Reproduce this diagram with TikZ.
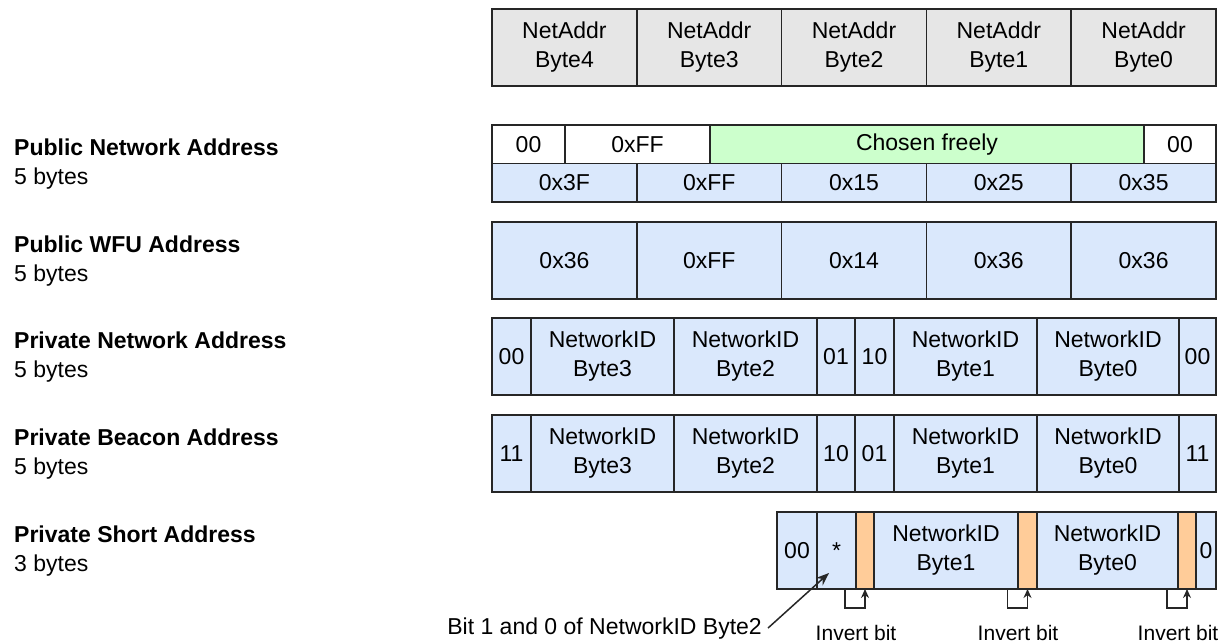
\documentclass[tikz,border=0pt]{standalone}
\usepackage{fontspec}
\setmainfont{Liberation Sans}
\usetikzlibrary{arrows.meta}
\definecolor{grayfill}{HTML}{E6E6E6}
\definecolor{bluefill}{HTML}{DAE8FC}
\definecolor{greenfill}{HTML}{CCFFCC}
\definecolor{orangefill}{HTML}{FFCC99}

\begin{document}
\begin{tikzpicture}[x=1pt,y=-1pt,
    every node/.style={font=\fontsize{23}{29}\selectfont},
    cell/.style={draw=black!85,line width=1.5pt,anchor=north west,inner sep=0pt,
        outer sep=0pt,align=center,minimum height=77pt},
    halfcell/.style={cell,minimum height=38.5pt},
    addrlabel/.style={anchor=west,align=left,inner sep=0pt},
    note/.style={inner sep=0pt},
    invnote/.style={note,anchor=base,font=\fontsize{21}{26}\selectfont},
    bracket/.style={draw=black!85,line width=1.5pt,-{Stealth[length=9pt,width=8pt]}},
    pointer/.style={draw=black!85,line width=1.5pt,-{Stealth[length=13pt,width=10pt]}}]
    \useasboundingbox (0,0) rectangle (1228,644);
    % address names
    \node[addrlabel] (lpn) at (14,164.5) {\textbf{Public Network Address}\\5 bytes};
    \node[addrlabel] (lpw) at (14,261.5) {\textbf{Public WFU Address}\\5 bytes};
    \node[addrlabel] (lrn) at (14,357.5) {\textbf{Private Network Address}\\5 bytes};
    \node[addrlabel] (lrb) at (14,454.5) {\textbf{Private Beacon Address}\\5 bytes};
    \node[addrlabel] (lrs) at (14,551.5) {\textbf{Private Short Address}\\3 bytes};
    % NetAddr header
    \node[cell,fill=grayfill,minimum width=144.8pt] (na4) at (492,9) {NetAddr\\Byte4};
    \node[cell,fill=grayfill,minimum width=144.8pt] (na3) at (636.8,9) {NetAddr\\Byte3};
    \node[cell,fill=grayfill,minimum width=144.8pt] (na2) at (781.6,9) {NetAddr\\Byte2};
    \node[cell,fill=grayfill,minimum width=144.8pt] (na1) at (926.4,9) {NetAddr\\Byte1};
    \node[cell,fill=grayfill,minimum width=144.8pt] (na0) at (1071.2,9) {NetAddr\\Byte0};
    % public network
    \node[halfcell,fill=white,minimum width=73pt] (pnA) at (492,125) {00};
    \node[halfcell,fill=white,minimum width=145pt] (pnB) at (565,125) {0xFF};
    \node[halfcell,fill=greenfill,minimum width=434pt] (pnC) at (710,125) {Chosen freely};
    \node[halfcell,fill=white,minimum width=72pt] (pnD) at (1144,125) {00};
    \node[halfcell,fill=bluefill,minimum width=144.8pt] (pn4) at (492,163.5) {0x3F};
    \node[halfcell,fill=bluefill,minimum width=144.8pt] (pn3) at (636.8,163.5) {0xFF};
    \node[halfcell,fill=bluefill,minimum width=144.8pt] (pn2) at (781.6,163.5) {0x15};
    \node[halfcell,fill=bluefill,minimum width=144.8pt] (pn1) at (926.4,163.5) {0x25};
    \node[halfcell,fill=bluefill,minimum width=144.8pt] (pn0) at (1071.2,163.5) {0x35};
    % public wfu
    \node[cell,fill=bluefill,minimum width=144.8pt] (pw4) at (492,222) {0x36};
    \node[cell,fill=bluefill,minimum width=144.8pt] (pw3) at (636.8,222) {0xFF};
    \node[cell,fill=bluefill,minimum width=144.8pt] (pw2) at (781.6,222) {0x14};
    \node[cell,fill=bluefill,minimum width=144.8pt] (pw1) at (926.4,222) {0x36};
    \node[cell,fill=bluefill,minimum width=144.8pt] (pw0) at (1071.2,222) {0x36};
    % private network
    \node[cell,fill=bluefill,minimum width=39pt] (rnA) at (492,318) {00};
    \node[cell,fill=bluefill,minimum width=143pt] (rn3) at (531,318) {NetworkID\\Byte3};
    \node[cell,fill=bluefill,minimum width=143pt] (rn2) at (674,318) {NetworkID\\Byte2};
    \node[cell,fill=bluefill,minimum width=38pt] (rnB) at (817,318) {01};
    \node[cell,fill=bluefill,minimum width=39pt] (rnC) at (855,318) {10};
    \node[cell,fill=bluefill,minimum width=143pt] (rn1) at (894,318) {NetworkID\\Byte1};
    \node[cell,fill=bluefill,minimum width=142pt] (rn0) at (1037,318) {NetworkID\\Byte0};
    \node[cell,fill=bluefill,minimum width=37pt] (rnD) at (1179,318) {00};
    % private beacon
    \node[cell,fill=bluefill,minimum width=39pt] (rbA) at (492,415) {11};
    \node[cell,fill=bluefill,minimum width=143pt] (rb3) at (531,415) {NetworkID\\Byte3};
    \node[cell,fill=bluefill,minimum width=143pt] (rb2) at (674,415) {NetworkID\\Byte2};
    \node[cell,fill=bluefill,minimum width=38pt] (rbB) at (817,415) {10};
    \node[cell,fill=bluefill,minimum width=39pt] (rbC) at (855,415) {01};
    \node[cell,fill=bluefill,minimum width=143pt] (rb1) at (894,415) {NetworkID\\Byte1};
    \node[cell,fill=bluefill,minimum width=142pt] (rb0) at (1037,415) {NetworkID\\Byte0};
    \node[cell,fill=bluefill,minimum width=37pt] (rbD) at (1179,415) {11};
    % private short
    \node[cell,fill=bluefill,minimum width=40pt] (rsA) at (777,512) {00};
    \node[cell,fill=bluefill,minimum width=39pt] (rsB) at (817,512) {*};
    \node[cell,fill=orangefill,minimum width=18pt] (inv1) at (856,512) {};
    \node[cell,fill=bluefill,minimum width=144pt] (rs1) at (874,512) {NetworkID\\Byte1};
    \node[cell,fill=orangefill,minimum width=19pt] (inv2) at (1018,512) {};
    \node[cell,fill=bluefill,minimum width=141pt] (rs0) at (1037,512) {NetworkID\\Byte0};
    \node[cell,fill=orangefill,minimum width=18pt] (inv3) at (1178,512) {};
    \node[cell,fill=bluefill,minimum width=20pt] (rsC) at (1196,512) {0};
    % inverted bits
    \draw[bracket] ([xshift=-20pt]inv1.south) -- ++(0,19) -| (inv1.south);
    \draw[bracket] ([xshift=-20pt]inv2.south) -- ++(0,19) -| (inv2.south);
    \draw[bracket] ([xshift=-20pt]inv3.south) -- ++(0,19) -| (inv3.south);
    \node[invnote] (ib1) at (inv1.south west |- 0,640) {Invert bit};
    \node[invnote] (ib2) at (inv2.south west |- 0,640) {Invert bit};
    \node[invnote] (ib3) at (inv3.south west |- 0,640) {Invert bit};
    \node[note,anchor=base east] (bits) at (762,634) {Bit 1 and 0 of NetworkID Byte2};
    \coordinate (bitsrc) at (829,573);
    \draw[pointer] ([xshift=6pt]bits.east) -- (bitsrc);
\end{tikzpicture}
\end{document}
